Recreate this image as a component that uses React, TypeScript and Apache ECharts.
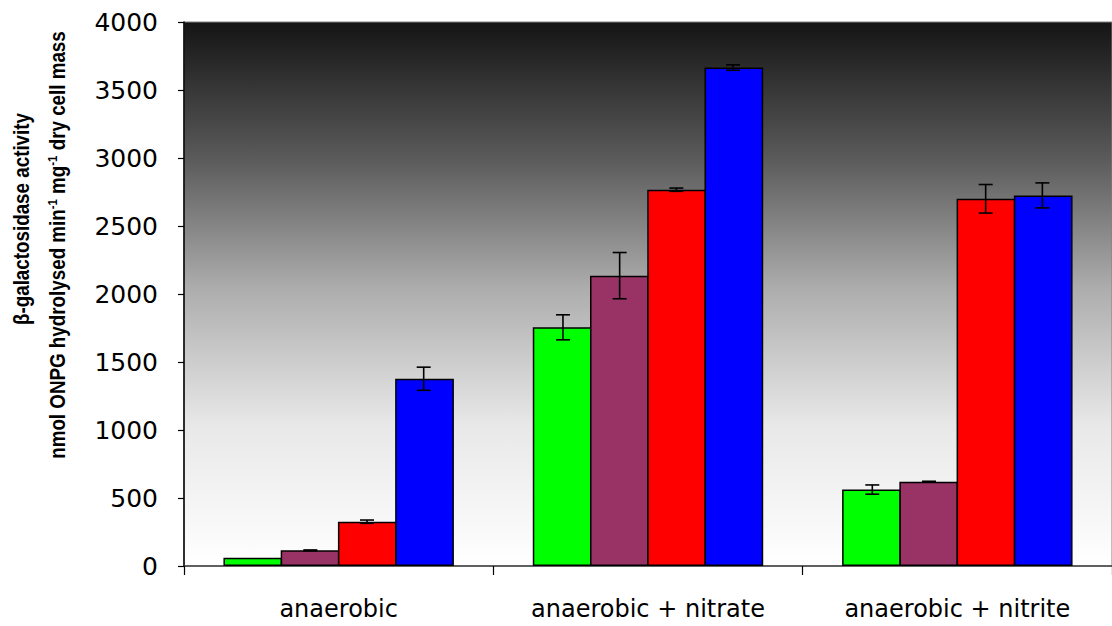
import React, { useEffect, useRef } from "react";
import * as echarts from "echarts";

const categories = ["anaerobic", "anaerobic + nitrate", "anaerobic + nitrite"];
const seriesNames = ["s1", "s2", "s3", "s4"];
const seriesColors = ["#00ff00", "#993366", "#ff0000", "#0000ff"];
const valuesGreen = [60, 1755, 562];
const errorsGreen = [0, 92, 34];
const valuesPurple = [115, 2135, 620];
const errorsPurple = [3, 170, 3];
const valuesRed = [326, 2767, 2700];
const errorsRed = [12, 12, 105];
const valuesBlue = [1377, 3665, 2725];
const errorsBlue = [85, 20, 92];
const yTicks = [0, 500, 1000, 1500, 2000, 2500, 3000, 3500, 4000];

const allValues = [valuesGreen, valuesPurple, valuesRed, valuesBlue];
const allErrors = [errorsGreen, errorsPurple, errorsRed, errorsBlue];

const CAT_GAP = 0.267;
const GRID_W = 937;
const BORDER = 1.5;

export default function App() {
  const ref = useRef<HTMLDivElement>(null);
  useEffect(() => {
    document.body.style.margin = "0";
    if (!ref.current) return;
    const chart = echarts.init(ref.current, null, { renderer: "svg" });
    const barW = ((GRID_W / categories.length) * (1 - CAT_GAP)) / 4;
    const layoutW = barW + BORDER;

    const barSeries = allValues.map((vals, k) => ({
      name: seriesNames[k],
      type: "bar",
      data: vals,
      barGap: (-(BORDER / layoutW) * 100).toFixed(3) + "%",
      barWidth: layoutW,
      itemStyle: { color: seriesColors[k], borderColor: "#000", borderWidth: BORDER },
      z: 2,
    }));

    const errSeries = allValues.map((vals, k) => ({
      name: seriesNames[k] + "_err",
      type: "custom",
      z: 5,
      data: vals.map((v, i) => [i, v, allErrors[k][i]]),
      encode: { x: 0, y: 1 },
      renderItem: (params: any, api: any) => {
        const ci = api.value(0);
        const v = api.value(1);
        const e = api.value(2);
        if (!e) return null;
        const c = api.coord([ci, v]);
        const band = api.size([1, 0])[0];
        const w = (band * (1 - CAT_GAP)) / 4;
        const x = c[0] + (k - 1.5) * w;
        const yt = api.coord([ci, v + e])[1];
        const yb = api.coord([ci, v - e])[1];
        const cap = 7;
        const st = { stroke: "#000", lineWidth: 1.6 };
        return {
          type: "group",
          children: [
            { type: "line", shape: { x1: x, y1: yt, x2: x, y2: yb }, style: st },
            { type: "line", shape: { x1: x - cap, y1: yt, x2: x + cap, y2: yt }, style: st },
            { type: "line", shape: { x1: x - cap, y1: yb, x2: x + cap, y2: yb }, style: st },
          ],
        };
      },
    }));

    chart.setOption({
      animation: false,
      grid: {
        left: 184,
        top: 22,
        height: 544,
        width: GRID_W,
        show: true,
        borderColor: "#808080",
        borderWidth: 1,
        backgroundColor: {
          type: "linear",
          x: 0,
          y: 0,
          x2: 0,
          y2: 1,
          colorStops: [
            { offset: 0, color: "#141414" },
            { offset: 0.25, color: "#5a5a5a" },
            { offset: 0.49, color: "#adadad" },
            { offset: 0.74, color: "#e8e8e8" },
            { offset: 1, color: "#ffffff" },
          ],
        },
      },
      xAxis: {
        type: "category",
        data: categories,
        axisLine: { lineStyle: { color: "#404040", width: 1.5 } },
        axisTick: { show: true, length: 9, lineStyle: { color: "#000", width: 1.2 } },
        axisLabel: {
          color: "#000",
          fontFamily: "DejaVu Sans",
          fontSize: 24,
          margin: 31,
        },
      },
      yAxis: {
        type: "value",
        min: yTicks[0],
        max: yTicks[yTicks.length - 1],
        interval: 500,
        splitLine: { show: false },
        axisLine: { show: true, lineStyle: { color: "#000", width: 1.5 } },
        axisTick: { show: true, length: 6, lineStyle: { color: "#000", width: 1.2 } },
        axisLabel: {
          color: "#000",
          fontFamily: "DejaVu Sans",
          fontSize: 25,
          margin: 26,
          formatter: (v: number) => String(v),
        },
      },
      graphic: [
        {
          type: "text",
          x: 22,
          y: 219,
          rotation: Math.PI / 2,
          scaleY: 1.15,
          style: {
            text: "β-galactosidase activity",
            fontFamily: "Liberation Sans",
            fontWeight: "bold",
            fontSize: 18.8,
            fill: "#000",
            align: "center",
            verticalAlign: "middle",
          },
        },
        {
          type: "text",
          x: 58,
          y: 245,
          rotation: Math.PI / 2,
          scaleY: 1.15,
          style: {
            text: "nmol ONPG hydrolysed min{s|-1} mg{s|-1} dry cell mass",
            fontFamily: "Liberation Sans",
            fontWeight: "bold",
            fontSize: 18.8,
            lineHeight: 22,
            fill: "#000",
            align: "center",
            verticalAlign: "middle",
            rich: {
              s: {
                fontFamily: "Liberation Sans",
                fontWeight: "bold",
                fontSize: 11.5,
                lineHeight: 12,
                verticalAlign: "top",
                fill: "#000",
              },
            },
          },
        },
      ],
      series: [...barSeries, ...errSeries],
    });
    return () => chart.dispose();
  }, []);
  return <div ref={ref} style={{ width: 1112, height: 626 }} />;
}
